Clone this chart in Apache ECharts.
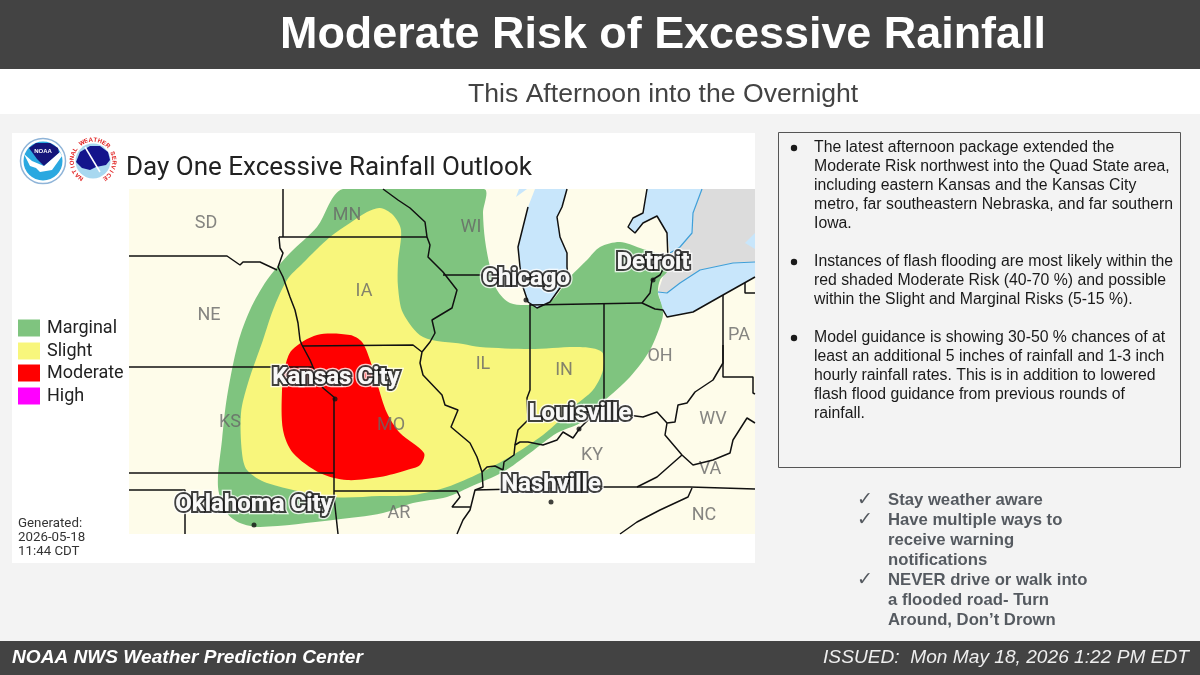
<!DOCTYPE html>
<html>
<head>
<meta charset="utf-8">
<title>Moderate Risk of Excessive Rainfall</title>
<script src="https://cdn.jsdelivr.net/npm/echarts@6/dist/echarts.min.js"></script>
<style>
html, body { margin: 0; padding: 0; background: #f3f3f3; }
#one { width: 1200px; height: 675px; }
</style>
</head>
<body>
<div id="one"></div>
<script>
// outlook areas and map lines, [x, y]
var canada = [[702,189],[755,189],[755,262],[733,263],[700,270],[680,283],[667,293],[658,292],[663,277],[670,253],[680,247],[692,233],[693,213]];
var marginal = [[343,189],[317,227],[290,253],[267,280],[250,310],[238,343],[227,397],[222,440],[218,487],[227,513],[240,523],[260,527],[333,520],[383,513],[413,503],[447,497],[470,487],[503,472],[530,453],[557,433],[580,423],[603,402],[630,377],[650,350],[662,320],[663,308],[658,293],[660,280],[668,270],[663,257],[640,248],[620,242],[600,247],[587,260],[570,277],[550,302],[530,305],[510,303],[497,290],[490,267],[485,240],[483,213],[484,189]];
var slight = [[380,208],[393,215],[401,230],[398,263],[398,287],[403,313],[423,337],[463,344],[480,347],[530,349],[580,347],[602,352],[603,370],[593,390],[573,407],[560,420],[543,435],[513,455],[480,473],[447,487],[413,495],[380,496],[333,497],[267,483],[247,470],[242,453],[241,413],[248,383],[263,340],[273,310],[287,280],[303,263],[330,237],[350,223],[367,212]];
var moderate = [[317,335],[350,335],[362,342],[370,360],[377,383],[387,413],[400,433],[424,453],[420,465],[407,470],[380,477],[347,480],[320,473],[293,453],[283,430],[282,390],[285,367],[292,350]];
var lakeMichigan = [[535,189],[567,189],[562,207],[557,217],[560,237],[567,253],[567,267],[568,277],[560,288],[550,302],[537,308],[528,302],[523,287],[520,267],[518,247],[523,227],[528,207]];
var greenBay = [[519,189],[527,189],[516,197]];
var lakeHuron = [[647,189],[702,189],[693,213],[692,233],[680,247],[670,253],[667,233],[657,216],[643,223],[635,233],[628,227],[633,218],[643,213]];
var lakeErie = [[658,292],[667,293],[680,283],[700,270],[733,263],[755,262],[755,277],[723,295],[693,312],[667,317],[663,310]];
var ontarioLake = [[745,243],[755,233],[755,249]];

var stateLines = [
  [[283,189],[283,237]],
  [[279,237],[427,237]],
  [[129,256],[227,256],[240,265],[243,262],[260,262],[277,270]],
  [[279,237],[280,248],[283,253],[278,267],[283,277],[290,297],[295,310],[298,323],[300,340],[302,345],[310,360],[313,367],[323,388],[335,398]],
  [[129,367],[313,367]],
  [[302,346],[413,345],[422,352]],
  [[334,398],[334,497],[338,534]],
  [[129,473],[334,473]],
  [[129,490],[185,490],[185,534]],
  [[334,491],[457,491],[460,497],[452,507],[470,507]],
  [[383,189],[398,200],[410,208],[425,222],[427,237],[430,245],[428,257],[443,272],[457,290],[452,308],[432,320],[435,333],[430,342],[422,352],[420,363],[423,375],[442,395],[445,405],[458,410],[451,427],[470,443],[477,457],[482,472],[483,487],[475,490],[470,510],[463,520],[457,534]],
  [[482,472],[487,467],[495,466],[503,470],[504,462],[514,455],[515,445],[520,442],[528,442],[543,445],[557,440],[563,432],[573,438],[580,428],[588,420],[604,402],[613,400],[628,415],[643,417],[657,412],[667,423]],
  [[530,304],[530,390],[527,398],[528,420],[518,430],[515,445]],
  [[604,303],[604,402]],
  [[443,275],[520,275]],
  [[530,305],[642,303]],
  [[642,303],[650,293],[652,280],[660,275],[668,260],[667,233],[657,216],[643,223],[635,233],[628,227],[633,218],[643,213],[647,189]],
  [[528,207],[523,227],[518,247],[520,267],[523,287],[528,302],[537,308],[550,302],[560,288],[568,277],[567,267],[567,253],[560,237],[557,217],[562,207],[567,189]],
  [[642,303],[655,309],[663,310],[667,317],[693,312],[723,295],[755,277]],
  [[723,295],[723,363],[723,377],[753,377],[753,393],[755,394]],
  [[745,283],[745,293],[755,293]],
  [[723,345],[723,363],[713,380],[695,392],[687,403],[678,405],[675,422],[667,423],[665,435],[682,455],[693,465],[713,460],[730,453],[733,440],[747,418],[755,423]],
  [[682,455],[657,477],[637,487]],
  [[475,490],[600,487],[690,487],[755,489]],
  [[692,488],[688,497],[660,510],[637,522],[620,534]]
];
var canadaShore = [[702,189],[693,213],[692,233],[680,247],[670,253]];
var erieShore = [[658,292],[667,293],[680,283],[700,270],[733,263],[755,262]];

var stateNames = ['SD','MN','WI','NE','IA','KS','MO','IL','IN','OH','PA','WV','KY','VA','AR','NC'];
var statePoints = [[206,223],[347,215],[471,227],[209,315],[364,291],[230,422],[391,425],[483,364],[564,370],[660,356],[739,335],[713,419],[592,455],[710,469],[399,513],[704,515]];

var cityNames = ['Chicago','Detroit','Kansas City','Louisville','Nashville','Oklahoma City'];
var cityLabelPoints = [[526,279],[653,263],[336,378],[580,414],[551,485],[254,505]];
var cityDots = [[526,300],[653,280],[335,399],[579,429],[551,502],[254,525]];

var riskNames = ['Marginal','Slight','Moderate','High'];
var riskColors = ['#7fc47f','#f8f67c','#ff0000','#ff00ff'];
var legendTops = [319,342,364,387];

var reportLines = [
  'The latest afternoon package extended the',
  'Moderate Risk northwest into the Quad State area,',
  'including eastern Kansas and the Kansas City',
  'metro, far southeastern Nebraska, and far southern',
  'Iowa.',
  '',
  'Instances of flash flooding are most likely within the',
  'red shaded Moderate Risk (40-70 %) and possible',
  'within the Slight and Marginal Risks (5-15 %).',
  '',
  'Model guidance is showing 30-50 % chances of at',
  'least an additional 5 inches of rainfall and 1-3 inch',
  'hourly rainfall rates. This is in addition to lowered',
  'flash flood guidance from previous rounds of',
  'rainfall.'
];
var reportBullets = [148,262,338];
var checkLines = [
  'Stay weather aware',
  'Have multiple ways to',
  'receive warning',
  'notifications',
  'NEVER drive or walk into',
  'a flooded road- Turn',
  'Around, Don\u2019t Drown'
];
var checkMarks = [500,520,580];
var sealLetters = 'NATIONAL WEATHER SERVICE';

function areaSeries(name, points, color, smooth) {
  return {
    name: name,
    type: 'custom',
    coordinateSystem: 'cartesian2d',
    clip: true,
    silent: true,
    itemStyle: { color: color },
    data: points.length ? [points[0]] : [],
    encode: { x: 0, y: 1 },
    renderItem: function (params, api) {
      return {
        type: 'polygon',
        shape: { points: points.map(function (p) { return api.coord(p); }), smooth: smooth },
        style: { fill: color }
      };
    }
  };
}

function lineSeries(points, color, width) {
  return {
    type: 'line',
    data: points,
    showSymbol: false,
    silent: true,
    clip: true,
    lineStyle: { color: color, width: width }
  };
}

function textEl(text, x, y, font, fill, align) {
  return {
    type: 'text', z: 20, silent: true,
    style: { text: text, x: x, y: y, font: font, fill: fill, textAlign: align || 'left', textVerticalAlign: 'middle' }
  };
}

function rectEl(x, y, w, h, fill, stroke) {
  return {
    type: 'rect', z: -1, silent: true,
    shape: { x: x, y: y, width: w, height: h },
    style: { fill: fill, stroke: stroke || null, lineWidth: 1 }
  };
}

var bodyFont = '15.8px "Liberation Sans"';
var boldFont = 'bold 16.7px "Liberation Sans"';
var genFont = '13.3px Roboto';
var graphics = [
  rectEl(0, 0, 1200, 69, '#434343'),
  rectEl(0, 69, 1200, 45, '#ffffff'),
  rectEl(12, 133, 743, 430, '#ffffff'),
  rectEl(778.5, 132.5, 402, 335, '#f3f3f3', '#555555'),
  rectEl(0, 641, 1200, 34, '#434343'),
  textEl('NOAA NWS Weather Prediction Center', 12, 658, 'italic bold 19.1px "Liberation Sans"', '#ffffff'),
  textEl('ISSUED:  Mon May 18, 2026 1:22 PM EDT', 1189, 658, 'italic 19.15px "Liberation Sans"', '#eeeeee', 'right'),
  textEl('Generated:', 18, 524, genFont, '#333333'),
  textEl('2026-05-18', 18, 538, genFont, '#333333'),
  textEl('11:44 CDT', 18, 552, genFont, '#333333')
];
// NOAA and NWS seals, kept simple
graphics.push(
  { type: 'circle', z: 5, silent: true, shape: { cx: 43, cy: 161, r: 22.5 }, style: { fill: '#ffffff', stroke: '#8fb4d8', lineWidth: 1.5 } },
  { type: 'circle', z: 5, silent: true, shape: { cx: 43, cy: 161, r: 19.5 }, style: { fill: '#2aa8e0' } },
  { type: 'polygon', z: 6, silent: true, shape: { points: [[29,148],[36,143],[50,143],[58,148],[59,153],[51,160],[44,166],[37,159]] }, style: { fill: '#15157a' } },
  { type: 'polygon', z: 6, silent: true, shape: { points: [[24,154],[32,161],[44,166],[60,152],[62,156],[52,170],[40,172],[36,168],[30,166]] }, style: { fill: '#ffffff' } },
  textEl('NOAA', 43, 151, 'bold 6px "Liberation Sans"', '#ffffff', 'center'),
  { type: 'circle', z: 5, silent: true, shape: { cx: 93, cy: 161, r: 17.5 }, style: { fill: '#a8d8f0' } },
  { type: 'polygon', z: 6, silent: true, shape: { points: [[76,162],[80,152],[90,146],[100,146],[108,152],[110,160],[106,165],[96,167],[90,170],[82,168]] }, style: { fill: '#14148c' } },
  { type: 'line', z: 7, silent: true, shape: { x1: 85, y1: 147, x2: 100, y2: 172 }, style: { stroke: '#ffffff', lineWidth: 1.5 } }
);
// seal lettering runs round the ring, NATIONAL starting low on the left
sealLetters.split('').forEach(function (ch, i) {
  var ang = (-145 + i * 12.6) * Math.PI / 180;
  var el = textEl(ch, 93 + 21 * Math.sin(ang), 161 - 21 * Math.cos(ang), 'bold 6px "Liberation Sans"', '#e02020', 'center');
  el.rotation = -ang;
  el.x = el.style.x; el.y = el.style.y;
  el.style.x = 0; el.style.y = 0;
  graphics.push(el);
});
reportLines.forEach(function (line, i) {
  if (line) graphics.push(textEl(line, 814, 148 + i * 19, bodyFont, '#1a1a1a'));
});
reportBullets.forEach(function (y) {
  graphics.push({ type: 'circle', z: 20, silent: true, shape: { cx: 794, cy: y, r: 3.2 }, style: { fill: '#1a1a1a' } });
});
checkLines.forEach(function (line, i) {
  graphics.push(textEl(line, 888, 500 + i * 20, boldFont, '#555a60'));
});
checkMarks.forEach(function (y) {
  graphics.push(textEl('\u2713', 857, y, 'bold 19px "DejaVu Sans"', '#555a60'));
});

var series = [
  areaSeries('Canada', canada, '#dcdcdc', 0),
  areaSeries(riskNames[0], marginal, riskColors[0], 0.3),
  areaSeries(riskNames[1], slight, riskColors[1], 0.3),
  areaSeries(riskNames[2], moderate, riskColors[2], 0.3),
  areaSeries(riskNames[3], [], riskColors[3], 0),
  areaSeries('Lake Michigan', lakeMichigan, '#c8e6fb', 0),
  areaSeries('Green Bay', greenBay, '#c8e6fb', 0),
  areaSeries('Lake Huron', lakeHuron, '#c8e6fb', 0),
  areaSeries('Lake Erie', lakeErie, '#c8e6fb', 0),
  areaSeries('Ontario lake', ontarioLake, '#c8e6fb', 0),
  lineSeries(canadaShore, '#3f9fd8', 1.2),
  lineSeries(erieShore, '#3f9fd8', 1.2)
];
stateLines.forEach(function (seg) {
  series.push(lineSeries(seg, '#111111', 1.5));
});
series.push({
  type: 'scatter', silent: true, symbolSize: 0,
  data: statePoints.map(function (p, i) { return { name: stateNames[i], value: p }; }),
  label: { show: true, position: 'inside', formatter: '{b}', fontFamily: 'Roboto', fontSize: 18, color: '#666666' }
});
series.push({
  type: 'scatter', silent: true, symbolSize: 5, itemStyle: { color: '#111111' },
  data: cityDots
});
// city names: white halo underneath, then black outline, then clean white fill
[[ '#ffffff', 6.5, 10 ], [ '#111111', 4, 11 ], [ '#ffffff', 0, 12 ]].forEach(function (layer) {
  series.push({
    type: 'scatter', silent: true, symbolSize: 0, z: layer[2],
    data: cityLabelPoints.map(function (p, i) { return { name: cityNames[i], value: p }; }),
    label: {
      show: true, position: 'inside', formatter: '{b}', fontFamily: 'Roboto', fontWeight: 'bold', fontSize: 24,
      color: '#ffffff', textBorderColor: layer[0], textBorderWidth: layer[1]
    }
  });
});

var myChart = echarts.init(document.getElementById('one'));
var option = {
  animation: false,
  backgroundColor: '#f3f3f3',
  title: [
    { text: 'Moderate Risk of Excessive Rainfall', left: 275, top: 8, textStyle: { fontFamily: 'Liberation Sans', fontWeight: 'bold', fontSize: 44.9, color: '#ffffff' } },
    { text: 'This Afternoon into the Overnight', left: 463, top: 76, textStyle: { fontFamily: 'Liberation Sans', fontWeight: 'normal', fontSize: 26.6, color: '#434343' } },
    { text: 'Day One Excessive Rainfall Outlook', left: 121, top: 150, textStyle: { fontFamily: 'Roboto', fontWeight: 'normal', fontSize: 26, color: '#222222' } }
  ],
  legend: riskNames.map(function (name, i) {
    return {
      data: [name], left: 18, top: legendTops[i], padding: 0, icon: 'rect', itemWidth: 22, itemHeight: 17,
      selectedMode: false,
      textStyle: { fontFamily: 'Roboto', fontSize: 18, color: '#222222', padding: [0, 0, 0, 2] }
    };
  }),
  grid: { left: 129, top: 189, width: 626, height: 345, show: true, backgroundColor: '#fefcea', borderWidth: 0 },
  xAxis: { type: 'value', min: 129, max: 755, show: false },
  yAxis: { type: 'value', min: 189, max: 534, inverse: true, show: false },
  graphic: { elements: graphics },
  series: series
};
myChart.setOption(option);
</script>
</body>
</html>
